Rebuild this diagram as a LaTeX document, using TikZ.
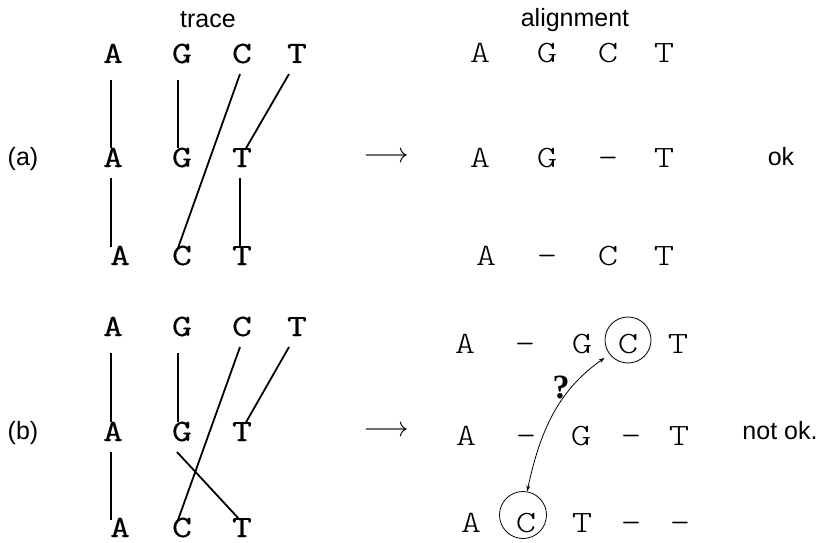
\documentclass[tikz,border=0pt]{standalone}
\usepackage{graphicx}
\usepackage{fontspec}
\setsansfont{Liberation Sans}
\newfontfamily\monothin{Latin Modern Mono Light}[FakeStretch=1.25]
\newfontfamily\monothick{Latin Modern Mono}[FakeBold=0.4,FakeStretch=1.25]
\newfontfamily\qfont{Liberation Serif}
\usetikzlibrary{arrows.meta}
\begin{document}
\begin{tikzpicture}[x=1pt,y=-1pt,
  tl/.style={font=\monothick\fontsize{31}{31}\selectfont, inner sep=0pt, anchor=base},
  al/.style={font=\monothin\fontsize{31}{31}\selectfont, inner sep=0pt, anchor=base},
  lab/.style={font=\sffamily\fontsize{25}{30}\selectfont, inner sep=0pt, anchor=base},
  maparrow/.style={inner sep=0pt, anchor=center},
  link/.style={line width=1.8pt},
  ring/.style={circle, draw, line width=0.8pt, inner sep=0pt},
  swap/.style={line width=0.8pt, {Stealth[length=6pt,width=4pt]}-{Stealth[length=6pt,width=4pt]}},
  qmark/.style={font=\qfont\bfseries\fontsize{34}{34}\selectfont, inner sep=0pt}]
\useasboundingbox (0,0) rectangle (820,543);

% titles
\node[lab] (ttrace) at (208,28) {trace};
\node[lab] (talign) at (575,27) {alignment};

% ---------- (a) ----------
\node[lab] (la) at (23,165) {(a)};
\node[tl] (aA1) at (113,63) {A};
\node[tl] (aG1) at (182,63) {G};
\node[tl] (aC1) at (242,63) {C};
\node[tl] (aT1) at (297,63) {T};
\node[tl] (aA2) at (113,167) {A};
\node[tl] (aG2) at (182,167) {G};
\node[tl] (aT2) at (242,167) {T};
\node[tl] (aA3) at (120,265) {A};
\node[tl] (aC3) at (182,265) {C};
\node[tl] (aT3) at (242,265) {T};

\draw[link] ([shift={(-2,17)}]aA1.base) -- ([shift={(-2,-19)}]aA2.base);
\draw[link] ([shift={(-4,17)}]aG1.base) -- ([shift={(-4,-19)}]aG2.base);
\draw[link] ([shift={(-2,11)}]aC1.base) -- ([shift={(-4,-17)}]aC3.base);
\draw[link] ([shift={(-8,11)}]aT1.base) -- ([shift={(3,-17)}]aT2.base);
\draw[link] ([shift={(-2,11)}]aA2.base) -- ([shift={(-9,-18)}]aA3.base);
\draw[link] ([shift={(-2,11)}]aT2.base) -- ([shift={(-2,-17)}]aT3.base);

\node[maparrow] (ma) at (386,157) {\scalebox{2.8}{$\longrightarrow$}};

\node[al] (xA1) at (480,63) {A};
\node[al] (xG1) at (547,63) {G};
\node[al] (xC1) at (608,63) {C};
\node[al] (xT1) at (664,63) {T};
\node[al] (xA2) at (480,167) {A};
\node[al] (xG2) at (547,167) {G};
\node[al] (xD2) at (608,167) {–};
\node[al] (xT2) at (664,167) {T};
\node[al] (xA3) at (486,265) {A};
\node[al] (xD3) at (547,265) {–};
\node[al] (xC3) at (608,265) {C};
\node[al] (xT3) at (664,265) {T};

\node[lab] (ok) at (781,165) {ok};

% ---------- (b) ----------
\node[lab] (lb) at (23,439) {(b)};
\node[tl] (bA1) at (113,336) {A};
\node[tl] (bG1) at (182,336) {G};
\node[tl] (bC1) at (242,336) {C};
\node[tl] (bT1) at (297,336) {T};
\node[tl] (bA2) at (113,441) {A};
\node[tl] (bG2) at (182,441) {G};
\node[tl] (bT2) at (242,441) {T};
\node[tl] (bA3) at (120,537) {A};
\node[tl] (bC3) at (182,537) {C};
\node[tl] (bT3) at (242,537) {T};

\draw[link] ([shift={(-2,17)}]bA1.base) -- ([shift={(-2,-19)}]bA2.base);
\draw[link] ([shift={(-4,17)}]bG1.base) -- ([shift={(-4,-19)}]bG2.base);
\draw[link] ([shift={(-2,11)}]bC1.base) -- ([shift={(-4,-17)}]bC3.base);
\draw[link] ([shift={(-8,11)}]bT1.base) -- ([shift={(3,-17)}]bT2.base);
\draw[link] ([shift={(-2,11)}]bA2.base) -- ([shift={(-9,-17)}]bA3.base);
\draw[link] ([shift={(-5,11)}]bG2.base) -- ([shift={(-2,-17)}]bT3.base);

\node[maparrow] (mb) at (386,431) {\scalebox{2.8}{$\longrightarrow$}};

\node[al] (yA1) at (465,353) {A};
\node[al] (yD1) at (525,353) {–};
\node[al] (yG1) at (582,353) {G};
\node[al] (yC1) at (628,353) {C};
\node[al] (yT1) at (678,353) {T};
\node[al] (yA2) at (466,445) {A};
\node[al] (yD2) at (526,445) {–};
\node[al] (yG2) at (581,445) {G};
\node[al] (yE2) at (631,445) {–};
\node[al] (yT2) at (679,445) {T};
\node[al] (yA3) at (471,532) {A};
\node[al] (yC3) at (526,532) {C};
\node[al] (yT3) at (582,532) {T};
\node[al] (yD3) at (631,532) {–};
\node[al] (yE3) at (680,532) {–};

\node[ring, minimum size=46pt] (upc) at (628,340) {};
\node[ring, minimum size=47pt] (lowc) at (523,515) {};
\draw[swap, shorten >=6pt] (lowc.80) to[out=78,in=215] (upc.218);
\node[qmark] (qm) at (561,387) {?};

\node[lab] (notok) at (780,439) {not ok.};
\end{tikzpicture}
\end{document}
